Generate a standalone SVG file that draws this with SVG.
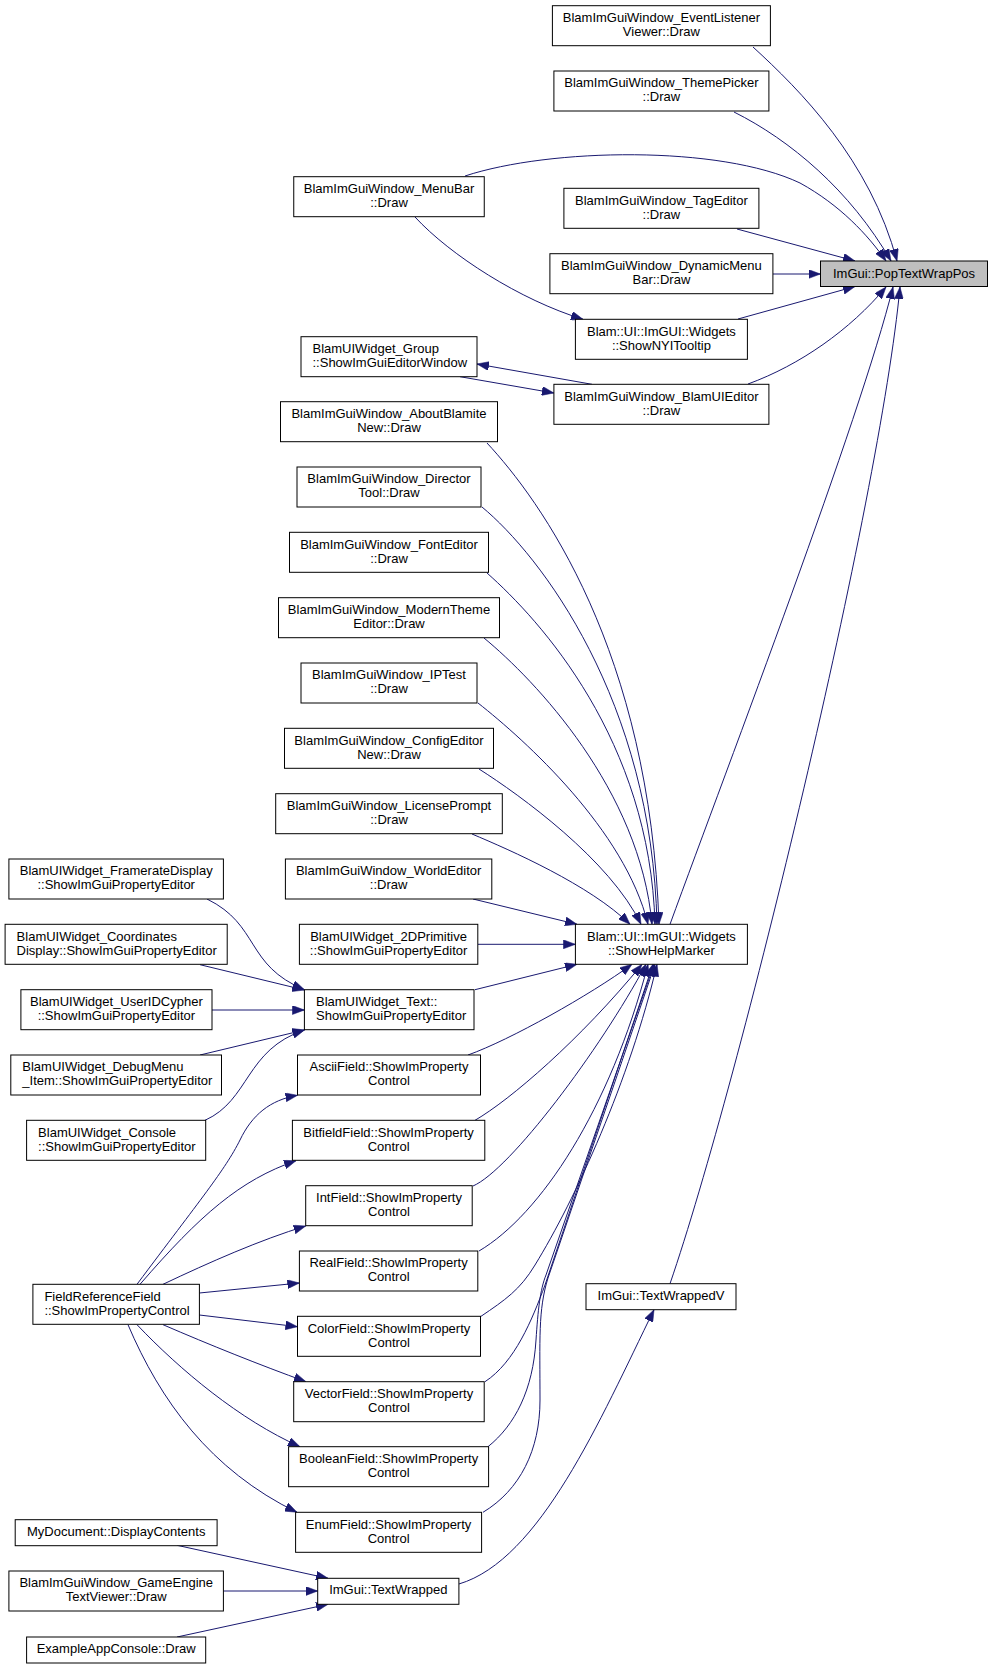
<svg xmlns="http://www.w3.org/2000/svg" width="993" height="1669" viewBox="0 0 993 1669">
<style>
.n rect{fill:#fff;stroke:#000;stroke-width:1}
.n text{font-family:"Liberation Sans",Arial,sans-serif;font-size:13px;text-anchor:middle;fill:#000}
.n text.l{text-anchor:start}
#root rect{fill:#bfbfbf}
#edges path{fill:none;stroke:#191970;stroke-width:1;marker-end:url(#ah)}
</style>
<defs>
<marker id="ah" viewBox="0 0 12 9" refX="12" refY="4.5" markerWidth="12" markerHeight="9" markerUnits="userSpaceOnUse" orient="auto">
<path d="M0,0 L12,4.5 L0,9 z" fill="#191970" stroke="#191970" stroke-width="0.5"/>
</marker>
</defs>
<rect width="993" height="1669" fill="#fff"/>
<g id="edges">
<path d="M753,47 C800,90 870,160 897,261"/>
<path d="M734,112 C790,140 850,190 891,261"/>
<path d="M465,176 C550,148 720,145 800,183 C840,205 868,235 886,261"/>
<path d="M737,229 L855,261"/>
<path d="M773,274 L820.5,274"/>
<path d="M738,319 L855,286.5"/>
<path d="M748,384 C800,365 850,330 886,287"/>
<path d="M670,924.3 C730,760 860,420 893,287"/>
<path d="M670,1283.7 C740,1080 880,500 900,287"/>
<path d="M415,217 C450,255 520,300 583,319.3"/>
<path d="M592,384.3 L477,364"/>
<path d="M460,376.7 L553.9,393"/>
<path d="M487,443 C540,500 650,650 659,924.3"/>
<path d="M482,507 C540,555 652,700 657,924.3"/>
<path d="M487,573 C540,620 650,740 655,924.3"/>
<path d="M484,638 C535,680 640,790 652,924.3"/>
<path d="M478,703 C525,740 625,830 648,924.3"/>
<path d="M479,769 C520,795 610,860 641,924.3"/>
<path d="M472,834 C510,850 590,885 630,924.3"/>
<path d="M473,899 L577,924.3"/>
<path d="M478,944.3 L575.4,944.3"/>
<path d="M475,989.7 L577,964.3"/>
<path d="M468,1055 C510,1040 590,995 632,964.3"/>
<path d="M475,1120.3 C510,1100 580,1040 642,964.3"/>
<path d="M473,1186 C510,1170 600,1050 646,964.3"/>
<path d="M479,1251 C540,1215 610,1110 648,964.3"/>
<path d="M481,1316.3 C505,1300 520,1290 535,1265 C575,1200 630,1080 657,964.3"/>
<path d="M485,1381.7 C515,1362 532,1320 545,1285 L653,964.3"/>
<path d="M488,1446.7 C515,1425 533,1390 536,1340 C538,1310 540,1290 546,1275 L654,964.3"/>
<path d="M483,1512.3 C520,1490 540,1450 540,1400 C540,1340 538,1310 548,1278 L655,964.3"/>
<path d="M207,899 C260,925 245,965 304.4,989.7"/>
<path d="M200,964.7 L304.4,990"/>
<path d="M212,1010 L304.4,1010"/>
<path d="M200,1055 L304.4,1030"/>
<path d="M205,1120.3 C250,1100 245,1050 304.4,1030"/>
<path d="M137,1284.3 C200,1200 225,1170 240,1140 C252,1115 270,1100 297.5,1095.3"/>
<path d="M140,1284.3 C200,1215 240,1180 296,1160.7"/>
<path d="M163,1284.3 C210,1262 260,1240 305.7,1226"/>
<path d="M199.4,1293 L299.4,1283"/>
<path d="M199.4,1315 L297.5,1326.7"/>
<path d="M163,1324.7 C210,1345 260,1365 306,1381.7"/>
<path d="M137,1324.7 C180,1370 240,1420 300,1446.7"/>
<path d="M128,1324.7 C160,1400 210,1470 297,1512.3"/>
<path d="M177,1545.3 L328,1578.3"/>
<path d="M223.4,1591 L317.7,1591"/>
<path d="M177,1637 L328,1604.3"/>
<path d="M458.9,1584 C540,1560 600,1420 654,1309.7"/>
</g>
<g id="root" class="n"><rect x="820.5" y="261" width="167" height="25.5"/><text x="904" y="277.5">ImGui::PopTextWrapPos</text></g>
<g id="n_eventlistener" class="n"><rect x="552.4" y="5.7" width="218" height="40"/><text x="661.4" y="22">BlamImGuiWindow_EventListener</text><text x="661.4" y="36">Viewer::Draw</text></g>
<g id="n_themepicker" class="n"><rect x="553.9" y="71" width="215" height="40"/><text x="661.4" y="87.3">BlamImGuiWindow_ThemePicker</text><text x="661.4" y="101.3">::Draw</text></g>
<g id="n_menubar" class="n"><rect x="293.75" y="176.7" width="190.5" height="40"/><text x="389" y="193">BlamImGuiWindow_MenuBar</text><text x="389" y="207">::Draw</text></g>
<g id="n_tageditor" class="n"><rect x="563.9" y="188.3" width="195" height="40"/><text x="661.4" y="204.6">BlamImGuiWindow_TagEditor</text><text x="661.4" y="218.6">::Draw</text></g>
<g id="n_dynamicmenu" class="n"><rect x="549.9" y="253.7" width="223" height="40"/><text x="661.4" y="270">BlamImGuiWindow_DynamicMenu</text><text x="661.4" y="284">Bar::Draw</text></g>
<g id="n_shownyi" class="n"><rect x="575.4" y="319.3" width="172" height="40"/><text x="661.4" y="335.6">Blam::UI::ImGUI::Widgets</text><text x="661.4" y="349.6">::ShowNYITooltip</text></g>
<g id="n_group" class="n"><rect x="301" y="336.7" width="176" height="40"/><text class="l" x="312.5" y="353">BlamUIWidget_Group</text><text class="l" x="312.5" y="367">::ShowImGuiEditorWindow</text></g>
<g id="n_blamuieditor" class="n"><rect x="553.9" y="384.3" width="215" height="40"/><text x="661.4" y="400.6">BlamImGuiWindow_BlamUIEditor</text><text x="661.4" y="414.6">::Draw</text></g>
<g id="n_aboutblamite" class="n"><rect x="280.5" y="401.7" width="217" height="40"/><text x="389" y="418">BlamImGuiWindow_AboutBlamite</text><text x="389" y="432">New::Draw</text></g>
<g id="n_director" class="n"><rect x="297" y="467" width="184" height="40"/><text x="389" y="483.3">BlamImGuiWindow_Director</text><text x="389" y="497.3">Tool::Draw</text></g>
<g id="n_fonteditor" class="n"><rect x="289.5" y="532.3" width="199" height="40"/><text x="389" y="548.6">BlamImGuiWindow_FontEditor</text><text x="389" y="562.6">::Draw</text></g>
<g id="n_moderntheme" class="n"><rect x="278.5" y="597.7" width="221" height="40"/><text x="389" y="614">BlamImGuiWindow_ModernTheme</text><text x="389" y="628">Editor::Draw</text></g>
<g id="n_iptest" class="n"><rect x="301" y="663" width="176" height="40"/><text x="389" y="679.3">BlamImGuiWindow_IPTest</text><text x="389" y="693.3">::Draw</text></g>
<g id="n_configeditor" class="n"><rect x="284.5" y="728.3" width="209" height="40"/><text x="389" y="744.6">BlamImGuiWindow_ConfigEditor</text><text x="389" y="758.6">New::Draw</text></g>
<g id="n_licenseprompt" class="n"><rect x="275.7" y="793.7" width="226.6" height="40"/><text x="389" y="810">BlamImGuiWindow_LicensePrompt</text><text x="389" y="824">::Draw</text></g>
<g id="n_worldeditor" class="n"><rect x="285.4" y="859" width="206.4" height="40"/><text x="388.6" y="875.3">BlamImGuiWindow_WorldEditor</text><text x="388.6" y="889.3">::Draw</text></g>
<g id="n_2dprimitive" class="n"><rect x="299.4" y="924.3" width="178.4" height="40"/><text x="388.6" y="940.6">BlamUIWidget_2DPrimitive</text><text x="388.6" y="954.6">::ShowImGuiPropertyEditor</text></g>
<g id="n_showhelpmarker" class="n"><rect x="575.4" y="924.3" width="172" height="40"/><text x="661.4" y="940.6">Blam::UI::ImGUI::Widgets</text><text x="661.4" y="954.6">::ShowHelpMarker</text></g>
<g id="n_text" class="n"><rect x="304.4" y="989.7" width="169.6" height="40"/><text class="l" x="316" y="1006">BlamUIWidget_Text::</text><text class="l" x="316" y="1020">ShowImGuiPropertyEditor</text></g>
<g id="n_ascii" class="n"><rect x="297.5" y="1055" width="183" height="40"/><text x="389" y="1071.3">AsciiField::ShowImProperty</text><text x="389" y="1085.3">Control</text></g>
<g id="n_bitfield" class="n"><rect x="292.4" y="1120.3" width="192.4" height="40"/><text x="388.6" y="1136.6">BitfieldField::ShowImProperty</text><text x="388.6" y="1150.6">Control</text></g>
<g id="n_int" class="n"><rect x="305.7" y="1185.7" width="166.5" height="40"/><text x="389" y="1202">IntField::ShowImProperty</text><text x="389" y="1216">Control</text></g>
<g id="n_real" class="n"><rect x="299.4" y="1251" width="178.4" height="40"/><text x="388.6" y="1267.3">RealField::ShowImProperty</text><text x="388.6" y="1281.3">Control</text></g>
<g id="n_color" class="n"><rect x="297.5" y="1316.3" width="183" height="40"/><text x="389" y="1332.6">ColorField::ShowImProperty</text><text x="389" y="1346.6">Control</text></g>
<g id="n_vector" class="n"><rect x="293.7" y="1381.7" width="190.5" height="40"/><text x="389" y="1398">VectorField::ShowImProperty</text><text x="389" y="1412">Control</text></g>
<g id="n_boolean" class="n"><rect x="288.6" y="1446.7" width="200" height="40"/><text x="388.6" y="1463">BooleanField::ShowImProperty</text><text x="388.6" y="1477">Control</text></g>
<g id="n_enum" class="n"><rect x="295.6" y="1512.3" width="186" height="40"/><text x="388.6" y="1528.6">EnumField::ShowImProperty</text><text x="388.6" y="1542.6">Control</text></g>
<g id="n_textwrapped" class="n"><rect x="317.7" y="1578.3" width="141.2" height="26"/><text x="388.3" y="1594.3">ImGui::TextWrapped</text></g>
<g id="n_textwrappedv" class="n"><rect x="586" y="1283.7" width="150" height="26"/><text x="661" y="1299.7">ImGui::TextWrappedV</text></g>
<g id="n_framerate" class="n"><rect x="8.9" y="859" width="214.5" height="40"/><text x="116.2" y="875.3">BlamUIWidget_FramerateDisplay</text><text x="116.2" y="889.3">::ShowImGuiPropertyEditor</text></g>
<g id="n_coordinates" class="n"><rect x="5.1" y="924.3" width="222.1" height="40"/><text class="l" x="16.6" y="940.6">BlamUIWidget_Coordinates</text><text class="l" x="16.6" y="954.6">Display::ShowImGuiPropertyEditor</text></g>
<g id="n_useridcypher" class="n"><rect x="20.9" y="989.7" width="191.1" height="40"/><text x="116.4" y="1006">BlamUIWidget_UserIDCypher</text><text x="116.4" y="1020">::ShowImGuiPropertyEditor</text></g>
<g id="n_debugmenu" class="n"><rect x="10.8" y="1055" width="210.7" height="40"/><text class="l" x="22.3" y="1071.3">BlamUIWidget_DebugMenu</text><text class="l" x="22.3" y="1085.3">_Item::ShowImGuiPropertyEditor</text></g>
<g id="n_console" class="n"><rect x="26.6" y="1120.3" width="179.1" height="40"/><text class="l" x="38.1" y="1136.6">BlamUIWidget_Console</text><text class="l" x="38.1" y="1150.6">::ShowImGuiPropertyEditor</text></g>
<g id="n_fieldref" class="n"><rect x="32.9" y="1284.3" width="166.5" height="40"/><text class="l" x="44.4" y="1300.6">FieldReferenceField</text><text class="l" x="44.4" y="1314.6">::ShowImPropertyControl</text></g>
<g id="n_mydocument" class="n"><rect x="15.2" y="1519.7" width="201.9" height="26"/><text x="116.2" y="1535.7">MyDocument::DisplayContents</text></g>
<g id="n_gameengine" class="n"><rect x="8.9" y="1571" width="214.5" height="40"/><text x="116.2" y="1587.3">BlamImGuiWindow_GameEngine</text><text x="116.2" y="1601.3">TextViewer::Draw</text></g>
<g id="n_exampleappconsole" class="n"><rect x="26.6" y="1637" width="179.1" height="26"/><text x="116.2" y="1653">ExampleAppConsole::Draw</text></g>
</svg>
